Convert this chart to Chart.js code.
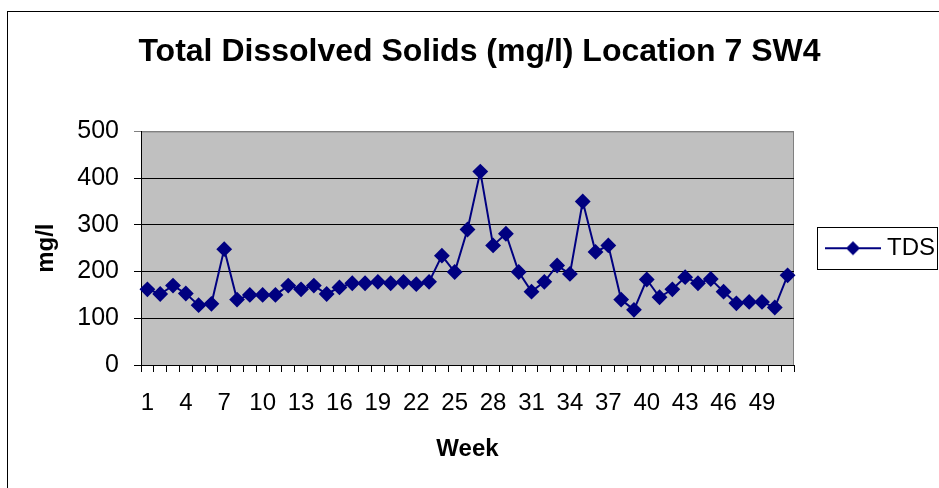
<!DOCTYPE html>
<html>
<head>
<meta charset="utf-8">
<script src="https://cdn.jsdelivr.net/npm/chart.js@4.4.0/dist/chart.umd.min.js"></script>
<style>
  html, body { margin: 0; padding: 0; background: #fff; }
  canvas { display: block; }
</style>
</head>
<body>
<canvas id="tds" width="939" height="488"></canvas>
<script>
// week numbers 1..51
const weeks = ['1','2','3','4','5','6','7','8','9','10','11','12','13','14','15','16','17','18','19','20',
  '21','22','23','24','25','26','27','28','29','30','31','32','33','34','35','36','37','38','39','40',
  '41','42','43','44','45','46','47','48','49','50','51'];

// TDS readings (mg/l)
const tds = [162, 152, 170, 153, 128, 131, 248, 140, 150, 150,
  150, 170, 162, 170, 152, 166, 175, 175, 178, 175,
  178, 173, 178, 234, 199, 290, 414, 256, 281, 199,
  157, 178, 213, 195, 350, 242, 256, 140, 118, 183,
  145, 162, 188, 175, 184, 157, 132, 135, 135, 123, 192];

const yTicks = [0, 100, 200, 300, 400, 500];

const fontFam = '"Liberation Sans", Arial, sans-serif';
const navy = '#000080';

// legend symbol: line with a diamond in the middle
const legendImg = document.createElement('canvas');
legendImg.width = 56;
legendImg.height = 16;
(function () {
  const g = legendImg.getContext('2d');
  g.strokeStyle = navy;
  g.lineWidth = 2;
  g.beginPath();
  g.moveTo(0, 8);
  g.lineTo(56, 8);
  g.stroke();
  g.fillStyle = navy;
  g.beginPath();
  g.moveTo(28, 1);
  g.lineTo(35, 8);
  g.lineTo(28, 15);
  g.lineTo(21, 8);
  g.closePath();
  g.fill();
})();

// grey plot area, outer frame, legend border
const frame = {
  id: 'frame',
  beforeDraw(chart) {
    const c = chart.ctx, a = chart.chartArea;
    c.save();
    c.fillStyle = '#fff';
    c.fillRect(0, 0, chart.width, chart.height);
    c.strokeStyle = '#000';
    c.lineWidth = 1;
    c.strokeRect(7.5, 11.5, 1200, 1200);
    c.fillStyle = '#c0c0c0';
    c.fillRect(a.left, a.top, a.right - a.left, a.bottom - a.top);
    c.strokeStyle = '#808080';
    c.beginPath();
    c.moveTo(a.left, a.top + 0.5);
    c.lineTo(a.right - 0.5, a.top + 0.5);
    c.lineTo(a.right - 0.5, a.bottom);
    c.stroke();
    c.restore();
  },
  afterDraw(chart) {
    const hb = chart.legend && chart.legend.legendHitBoxes && chart.legend.legendHitBoxes[0];
    if (!hb) return;
    const c = chart.ctx;
    const cy = Math.round(hb.top + 12);
    c.save();
    c.strokeStyle = '#000';
    c.lineWidth = 1;
    c.strokeRect(Math.round(hb.left) - 13.5, cy - 20.5, 120, 42);
    c.restore();
  }
};

new Chart(document.getElementById('tds'), {
  type: 'line',
  data: {
    labels: weeks,
    datasets: [{
      label: 'TDS',
      data: tds,
      borderColor: navy,
      backgroundColor: navy,
      borderWidth: 2,
      pointStyle: 'rectRot',
      pointRadius: 6.5,
      pointHoverRadius: 6.5,
      pointBackgroundColor: navy,
      pointBorderColor: navy,
      tension: 0,
      clip: false
    }]
  },
  options: {
    responsive: false,
    animation: false,
    events: [],
    layout: { padding: { left: 14, right: -6, top: 0, bottom: 24 } },
    plugins: {
      legend: {
        display: true,
        position: 'right',
        fullSize: false,
        labels: {
          usePointStyle: true,
          pointStyle: legendImg,
          pointStyleWidth: 44,
          padding: 37,
          color: '#000',
          font: { family: fontFam, size: 24 }
        }
      },
      tooltip: { enabled: false },
      title: {
        display: true,
        text: 'Total Dissolved Solids (mg/l) Location 7 SW4',
        color: '#000',
        font: { family: fontFam, size: 32, weight: 'bold' },
        padding: { top: 33, bottom: 60 }
      }
    },
    scales: {
      x: {
        offset: true,
        grid: { display: true, drawOnChartArea: false, offset: true, tickLength: 7, color: '#000' },
        border: { color: '#000', width: 1 },
        ticks: {
          autoSkip: false,
          maxRotation: 0,
          padding: 17,
          color: '#000',
          font: { family: fontFam, size: 24 },
          callback: (v, i) => (i % 3 === 0 ? weeks[i] : '')
        },
        title: {
          display: true,
          text: 'Week',
          color: '#000',
          font: { family: fontFam, size: 24, weight: 'bold' },
          padding: 0
        },
        afterFit: s => { s.height = 99; }
      },
      y: {
        min: yTicks[0],
        max: yTicks[yTicks.length - 1],
        afterBuildTicks: s => { s.ticks = yTicks.map(v => ({ value: v })); },
        grid: {
          tickLength: 7,
          color: ctx => (ctx.tick && ctx.tick.value === 500 ? '#808080' : '#000')
        },
        border: { color: '#000', width: 1 },
        ticks: {
          padding: 15,
          color: '#000',
          font: { family: fontFam, size: 25 }
        },
        title: {
          display: true,
          text: 'mg/l',
          color: '#000',
          font: { family: fontFam, size: 24, weight: 'bold' },
          padding: { top: 18, bottom: 0 }
        },
        afterFit: s => { s.width = 127; }
      }
    }
  },
  plugins: [frame]
});
</script>
</body>
</html>
